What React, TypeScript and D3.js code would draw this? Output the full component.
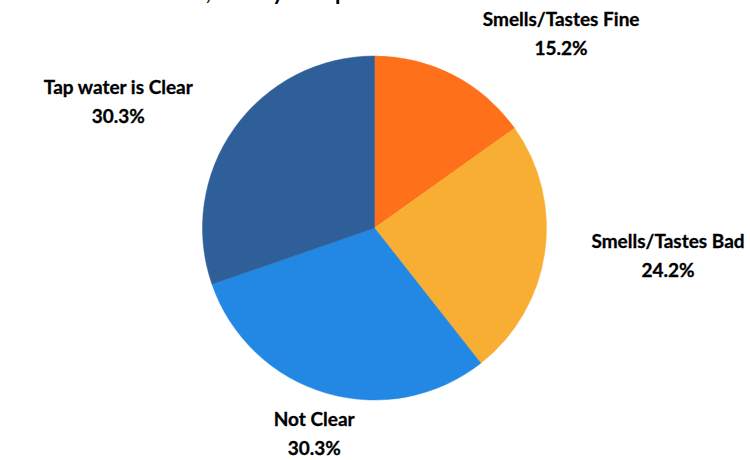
import React from "react";
import * as d3 from "d3";

const categories = ["Smells/Tastes Fine", "Smells/Tastes Bad", "Not Clear", "Tap water is Clear"];
const counts = [5, 8, 10, 10];
const percentLabels = ["15.2%", "24.2%", "30.3%", "30.3%"];
const colors = ["#FF701A", "#F8AE32", "#2388E4", "#2E5F99"];
const titleParts = ["Water Test Results,", "Survey of Tap Water"];

const W = 750;
const H = 460;
const CX = 374.5;
const CY = 228;
const R = 172;
// label placement relative to slice mid-angle: [angle offset (deg), radius]
const labelLayout = [
  { da: 17.5, r: 265 },
  { da: -1.6, r: 295.5 },
  { da: -0.5, r: 220.5 },
  { da: -10.3, r: 283 },
];

export default function App() {
  const pie = d3.pie<number>().sort(null).value((d) => d)(counts);
  const arc = d3.arc<d3.PieArcDatum<number>>().innerRadius(0).outerRadius(R);
  const font = "Lato, 'Open Sans', sans-serif";
  return (
    <svg width={W} height={H} style={{ position: "absolute", left: 0, top: 0, background: "#fff" }}>
      <text x={211} y={0} textAnchor="end" fontFamily={font} fontWeight="bold" fontSize={22} fill="#000">
        {titleParts[0]}
      </text>
      <text x={217} y={0} textAnchor="start" fontFamily={font} fontWeight="bold" fontSize={22} fill="#000">
        {titleParts[1]}
      </text>
      <g transform={`translate(${CX},${CY})`}>
        {pie.map((p, i) => (
          <path key={i} d={arc(p) || ""} fill={colors[i]} stroke={colors[i]} strokeWidth={0.5} />
        ))}
      </g>
      {pie.map((p, i) => {
        const mid = (p.startAngle + p.endAngle) / 2 + (labelLayout[i].da * Math.PI) / 180;
        const x = CX + Math.sin(mid) * labelLayout[i].r;
        const y = CY - Math.cos(mid) * labelLayout[i].r;
        return (
          <text key={i} x={x} y={y} textAnchor="middle" fontFamily={font} fontWeight="bold" fontSize={19} fill="#000" stroke="#000" strokeWidth={0.3}>
            <tspan x={x} dy={-14}>{categories[i]}</tspan>
            <tspan x={x} dy={29}>{percentLabels[i]}</tspan>
          </text>
        );
      })}
    </svg>
  );
}
